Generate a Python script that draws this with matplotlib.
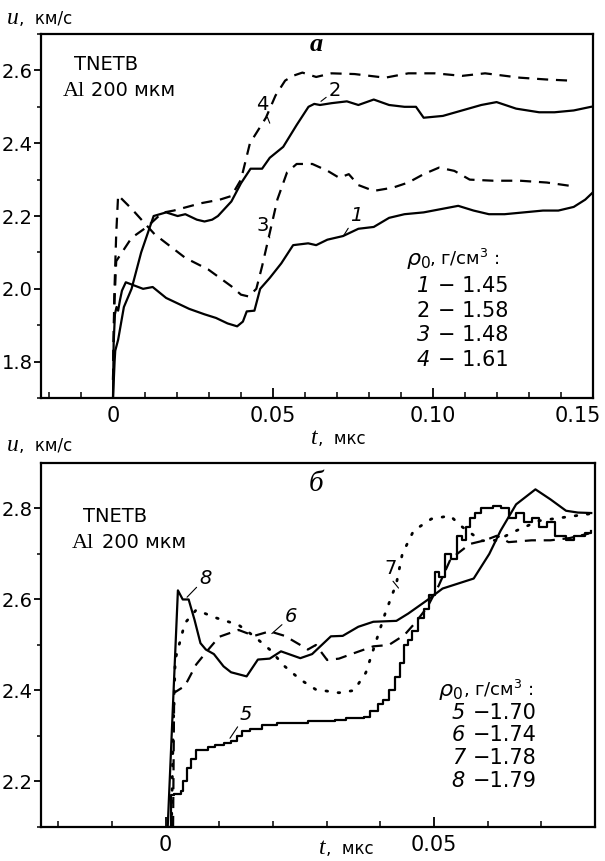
import matplotlib
matplotlib.use("Agg")
import matplotlib.pyplot as plt
from matplotlib.transforms import ScaledTranslation
import numpy as np

plt.rcParams['font.family'] = ['DejaVu Sans']
plt.rcParams['mathtext.fontset'] = 'dejavusans'

# panel a: rho0 = 1.45, 1.58, 1.48, 1.61
t1 = [0, 0.0002, 0.0006, 0.0011, 0.0016, 0.0022, 0.0028, 0.004, 0.0064, 0.0094, 0.0124, 0.0166,
      0.0202, 0.0238, 0.0286, 0.0322, 0.0358, 0.0388, 0.0406, 0.0418, 0.0442, 0.046, 0.049, 0.0526,
      0.0563, 0.061, 0.0635, 0.067, 0.0719, 0.0767, 0.0815, 0.0863, 0.0911, 0.0971, 0.1031, 0.1079,
      0.1127, 0.1175, 0.1224, 0.1284, 0.1344, 0.1392, 0.144, 0.1476, 0.15]
u1 = [1.70, 1.85, 1.93, 1.95, 1.94, 1.97, 1.995, 2.018, 2.01, 2.0, 2.005, 1.975,
      1.96, 1.945, 1.93, 1.92, 1.905, 1.897, 1.91, 1.938, 1.94, 2.0, 2.03, 2.07,
      2.12, 2.125, 2.12, 2.135, 2.145, 2.165, 2.17, 2.195, 2.205, 2.21, 2.22, 2.228,
      2.215, 2.205, 2.205, 2.21, 2.215, 2.215, 2.225, 2.245, 2.265]

t2 = [0, 0.0005, 0.0007, 0.0016, 0.0034, 0.0058, 0.0088, 0.0127, 0.0166, 0.0202, 0.0226, 0.0262,
      0.0286, 0.031, 0.0328, 0.037, 0.04, 0.043, 0.0466, 0.049, 0.0532, 0.0574, 0.0611, 0.0629,
      0.0647, 0.0683, 0.0731, 0.0767, 0.0815, 0.0863, 0.0911, 0.0947, 0.0971, 0.1031, 0.1091,
      0.1151, 0.1199, 0.126, 0.1332, 0.138, 0.144, 0.1494]
u2 = [1.70, 1.80, 1.83, 1.86, 1.95, 2.0, 2.1, 2.2, 2.21, 2.2, 2.205, 2.19,
      2.185, 2.19, 2.2, 2.24, 2.29, 2.33, 2.33, 2.36, 2.39, 2.45, 2.5, 2.508,
      2.505, 2.51, 2.515, 2.505, 2.52, 2.505, 2.5, 2.5, 2.47, 2.475, 2.49,
      2.505, 2.513, 2.495, 2.485, 2.485, 2.49, 2.5]

t3 = [0, 0.0004, 0.001, 0.0016, 0.0058, 0.013, 0.0226, 0.0298, 0.037, 0.04, 0.0424, 0.0448,
      0.0466, 0.049, 0.0514, 0.0544, 0.0574, 0.0623, 0.0671, 0.0707, 0.0737, 0.0767, 0.0815,
      0.0875, 0.0923, 0.0971, 0.1019, 0.1067, 0.1115, 0.1188, 0.1272, 0.1356, 0.1428]
u3 = [1.75, 1.98, 2.15, 2.257, 2.22, 2.15, 2.085, 2.053, 2.007, 1.984, 1.979, 2.0,
      2.062, 2.154, 2.246, 2.32, 2.343, 2.343, 2.324, 2.305, 2.315, 2.285, 2.269,
      2.278, 2.292, 2.315, 2.333, 2.324, 2.30, 2.297, 2.297, 2.292, 2.283]

t4 = [0, 0.0004, 0.001, 0.0058, 0.0106, 0.0154, 0.019, 0.0274, 0.0334, 0.037, 0.04, 0.0428,
      0.0478, 0.0508, 0.0538, 0.0562, 0.0592, 0.0635, 0.0683, 0.0755, 0.0851, 0.0923, 0.1007,
      0.1091, 0.1163, 0.1272, 0.1356, 0.1428]
u4 = [1.75, 1.95, 2.076, 2.14, 2.17, 2.209, 2.215, 2.235, 2.245, 2.255, 2.30, 2.40,
      2.47, 2.531, 2.572, 2.585, 2.594, 2.582, 2.592, 2.59, 2.58, 2.592, 2.592,
      2.585, 2.592, 2.58, 2.575, 2.572]

# panel b: rho0 = 1.70, 1.74, 1.78, 1.79
t5 = [0.0009, 0.0011, 0.0016, 0.0029, 0.0032, 0.004, 0.0047, 0.0057, 0.0079, 0.0093, 0.0108, 0.0122,
      0.0133, 0.0143, 0.0158, 0.0179, 0.0208, 0.0265, 0.0316, 0.0337, 0.0369, 0.038, 0.0395, 0.0405,
      0.0416, 0.0427, 0.0437, 0.0445, 0.0452, 0.0459, 0.047, 0.0481, 0.0491, 0.0502, 0.0509, 0.052,
      0.0531, 0.0542, 0.0552, 0.0559, 0.0567, 0.0577, 0.0588, 0.061, 0.0624, 0.0639, 0.0653, 0.0667,
      0.0682, 0.0696, 0.071, 0.0725, 0.0746, 0.076, 0.0782, 0.0792]
u5 = [2.10, 2.17, 2.173, 2.18, 2.20, 2.23, 2.25, 2.27, 2.275, 2.28, 2.285, 2.29,
      2.30, 2.31, 2.315, 2.325, 2.328, 2.332, 2.335, 2.34, 2.342, 2.355, 2.37, 2.38,
      2.40, 2.43, 2.46, 2.50, 2.51, 2.53, 2.56, 2.58, 2.61, 2.66, 2.65, 2.70,
      2.69, 2.74, 2.73, 2.76, 2.78, 2.79, 2.80, 2.805, 2.80, 2.78, 2.79, 2.77,
      2.78, 2.76, 2.77, 2.74, 2.73, 2.74, 2.745, 2.75]

t6 = [0.0014, 0.0016, 0.0036, 0.0057, 0.0079, 0.01, 0.0136, 0.0165, 0.0194, 0.0222, 0.0251, 0.0265,
      0.028, 0.0301, 0.0323, 0.0351, 0.0387, 0.0416, 0.0445, 0.0466, 0.0488, 0.0509, 0.0531, 0.0567,
      0.0595, 0.0617, 0.0639, 0.0682, 0.0717, 0.0753, 0.0789]
u6 = [2.10, 2.395, 2.41, 2.457, 2.489, 2.518, 2.533, 2.52, 2.53, 2.52, 2.50, 2.49,
      2.50, 2.467, 2.47, 2.482, 2.497, 2.50, 2.522, 2.55, 2.584, 2.631, 2.689, 2.722,
      2.73, 2.74, 2.726, 2.73, 2.73, 2.735, 2.745]

t7 = [0.0011, 0.0014, 0.0018, 0.0036, 0.0057, 0.0093, 0.0136, 0.0165, 0.0194, 0.0222, 0.0251, 0.028,
      0.0323, 0.0351, 0.0373, 0.0391, 0.0409, 0.043, 0.0441, 0.0462, 0.0495, 0.053, 0.0552, 0.0588,
      0.0617, 0.0653, 0.0696, 0.0739, 0.0789]
u7 = [2.10, 2.30, 2.468, 2.548, 2.577, 2.56, 2.544, 2.519, 2.49, 2.453, 2.424, 2.402,
      2.395, 2.40, 2.439, 2.504, 2.569, 2.635, 2.70, 2.751, 2.777, 2.784, 2.76, 2.729,
      2.73, 2.751, 2.773, 2.78, 2.788]

t8 = [0.0004, 0.0023, 0.0032, 0.0043, 0.0054, 0.0065, 0.0075, 0.009, 0.0108, 0.0122, 0.0151, 0.0172,
      0.0194, 0.0215, 0.0251, 0.0273, 0.0308, 0.033, 0.0359, 0.0387, 0.043, 0.0452, 0.0488, 0.0516,
      0.0574, 0.0603, 0.0624, 0.0653, 0.0689, 0.0717, 0.0746, 0.0768, 0.0793]
u8 = [2.10, 2.62, 2.60, 2.60, 2.555, 2.504, 2.49, 2.48, 2.453, 2.44, 2.431, 2.468,
      2.47, 2.486, 2.471, 2.48, 2.519, 2.52, 2.54, 2.551, 2.553, 2.569, 2.599, 2.624,
      2.646, 2.70, 2.751, 2.809, 2.842, 2.82, 2.795, 2.791, 2.79]

legend_a = [("1", "1.45"), ("2", "1.58"), ("3", "1.48"), ("4", "1.61")]
legend_b = [("5", "1.70"), ("6", "1.74"), ("7", "1.78"), ("8", "1.79")]

fig = plt.figure(figsize=(6.05, 8.61), dpi=100)
ax1 = fig.add_axes([0.0678, 0.5377, 0.9122, 0.4228])
ax2 = fig.add_axes([0.0678, 0.0395, 0.9157, 0.4228])

lw = 1.6
dash = (0, (5, 3.5))
dot = (0, (0.6, 3.8))

ax1.plot(t1, u1, color='k', lw=lw)
ax1.plot(t2, u2, color='k', lw=lw)
ax1.plot(t3, u3, color='k', lw=lw, linestyle=dash)
ax1.plot(t4, u4, color='k', lw=lw, linestyle=dash)

ax2.plot(t5, u5, color='k', lw=lw, drawstyle='steps-post')
ax2.plot(t6, u6, color='k', lw=lw, linestyle=dash)
ax2.plot(t7, u7, color='k', lw=lw + 0.4, linestyle=dot, dash_capstyle='round')
ax2.plot(t8, u8, color='k', lw=lw)

tick_fs = 14
for ax in (ax1, ax2):
    for sp in ax.spines.values():
        sp.set_linewidth(1.6)
    ax.tick_params(axis='x', direction='in', length=7, width=1.3, labelsize=tick_fs + 1, pad=6,
                   top=False)
    ax.tick_params(axis='x', which='minor', direction='in', length=4, width=1.1, top=False)
    ax.tick_params(axis='y', direction='out', length=5, width=1.3, labelsize=tick_fs, pad=1,
                   right=False)
    ax.tick_params(axis='y', which='minor', direction='out', length=3, width=1.1, right=False)

ax1.set_xlim(-0.0225, 0.15)
ax1.set_ylim(1.7, 2.7)
ax1.set_xticks([0, 0.05, 0.10, 0.15])
ax1.set_xticklabels(["0", "0.05", "0.10", "0.15"])
ax1.set_xticks(np.arange(-0.02, 0.15, 0.01), minor=True)
ax1.set_yticks([1.8, 2.0, 2.2, 2.4, 2.6])
ax1.set_yticklabels(["1.8", "2.0", "2.2", "2.4", "2.6"])
ax1.set_yticks(np.arange(1.7, 2.7, 0.1), minor=True)
last = ax1.get_xticklabels()[-1]
last.set_transform(last.get_transform() + ScaledTranslation(-11 / 72, 0, fig.dpi_scale_trans))

ax2.set_xlim(-0.0232, 0.08)
ax2.set_ylim(2.1, 2.9)
ax2.set_xticks([0, 0.05])
ax2.set_xticklabels(["0", "0.05"])
ax2.set_xticks(np.arange(-0.02, 0.08, 0.01), minor=True)
ax2.set_yticks([2.2, 2.4, 2.6, 2.8])
ax2.set_yticklabels(["2.2", "2.4", "2.6", "2.8"])
ax2.set_yticks(np.arange(2.1, 2.9, 0.1), minor=True)

serif = ['Liberation Serif', 'DejaVu Serif']

# axis labels
for y in (0.972, 0.476):
    fig.text(0.012, y, "u", family=serif, style='italic', fontsize=17, va='baseline')
    fig.text(0.031, y, ",  км/с", fontsize=12, va='baseline')
fig.text(0.525, 0.484, "t", family=serif, style='italic', fontsize=17, va='baseline', ha='right')
fig.text(0.526, 0.484, ",  мкс", fontsize=12, va='baseline')
fig.text(0.538, 0.008, "t", family=serif, style='italic', fontsize=17, va='baseline', ha='right')
fig.text(0.539, 0.008, ",  мкс", fontsize=12, va='baseline')

# panel titles and sample text
ax1.text(0.0635, 2.652, "a", family=serif, style='italic', weight='bold', fontsize=19, ha='center')
ax2.text(0.028, 2.838, "б", family=serif, style='italic', fontsize=21, ha='center')

ax1.text(-0.0122, 2.60, "TNETB", fontsize=14)
ax1.text(-0.0158, 2.53, "Al", family=serif, fontsize=16)
ax1.text(-0.0068, 2.53, "200 мкм", fontsize=14)
ax2.text(-0.0153, 2.77, "TNETB", fontsize=14)
ax2.text(-0.0175, 2.713, "Al", family=serif, fontsize=16)
ax2.text(-0.0118, 2.713, "200 мкм", fontsize=14)

# legends as text
ax1.text(0.0915, 2.065, r"$\rho_0$", fontsize=16)
ax1.text(0.0988, 2.065, r", г/см$^3$ :", fontsize=13)
for i, (n, v) in enumerate(legend_a):
    y = 1.99 - i * 0.067
    ax1.text(0.0950, y, n, fontsize=15, style='italic' if n != "2" else 'normal')
    ax1.text(0.1015, y, "− " + v, fontsize=15)

ax2.text(0.0508, 2.388, r"$\rho_0$", fontsize=16)
ax2.text(0.0555, 2.388, r", г/см$^3$ :", fontsize=13)
for i, (n, v) in enumerate(legend_b):
    y = 2.338 - i * 0.05
    ax2.text(0.0533, y, n, fontsize=15, style='italic')
    ax2.text(0.0572, y, "−" + v, fontsize=15)

# curve labels with leader lines
lead = dict(arrowstyle='-', lw=0.8, color='k', shrinkA=0, shrinkB=0)
ax1.annotate("4", xy=(0.0490, 2.455), xytext=(0.0448, 2.49), fontsize=14, arrowprops=lead)
ax1.annotate("2", xy=(0.0650, 2.515), xytext=(0.0675, 2.53), fontsize=14, arrowprops=lead)
ax1.annotate("3", xy=(0.0490, 2.14), xytext=(0.0448, 2.16), fontsize=14, arrowprops=lead)
ax1.annotate("1", xy=(0.0720, 2.145), xytext=(0.0740, 2.185), fontsize=14, style='italic',
             arrowprops=lead)

ax2.annotate("8", xy=(0.0040, 2.605), xytext=(0.0063, 2.635), fontsize=14, style='italic',
             arrowprops=lead)
ax2.annotate("6", xy=(0.0198, 2.525), xytext=(0.0222, 2.55), fontsize=14, style='italic',
             arrowprops=lead)
ax2.annotate("7", xy=(0.0434, 2.625), xytext=(0.0408, 2.655), fontsize=14,
             arrowprops=dict(arrowstyle='-', lw=0.8, color='k', shrinkA=0, shrinkB=0,
                             relpos=(0.5, 0)))
ax2.annotate("5", xy=(0.0120, 2.295), xytext=(0.0138, 2.335), fontsize=14, style='italic',
             arrowprops=lead)

fig.savefig("out.png", dpi=100)
